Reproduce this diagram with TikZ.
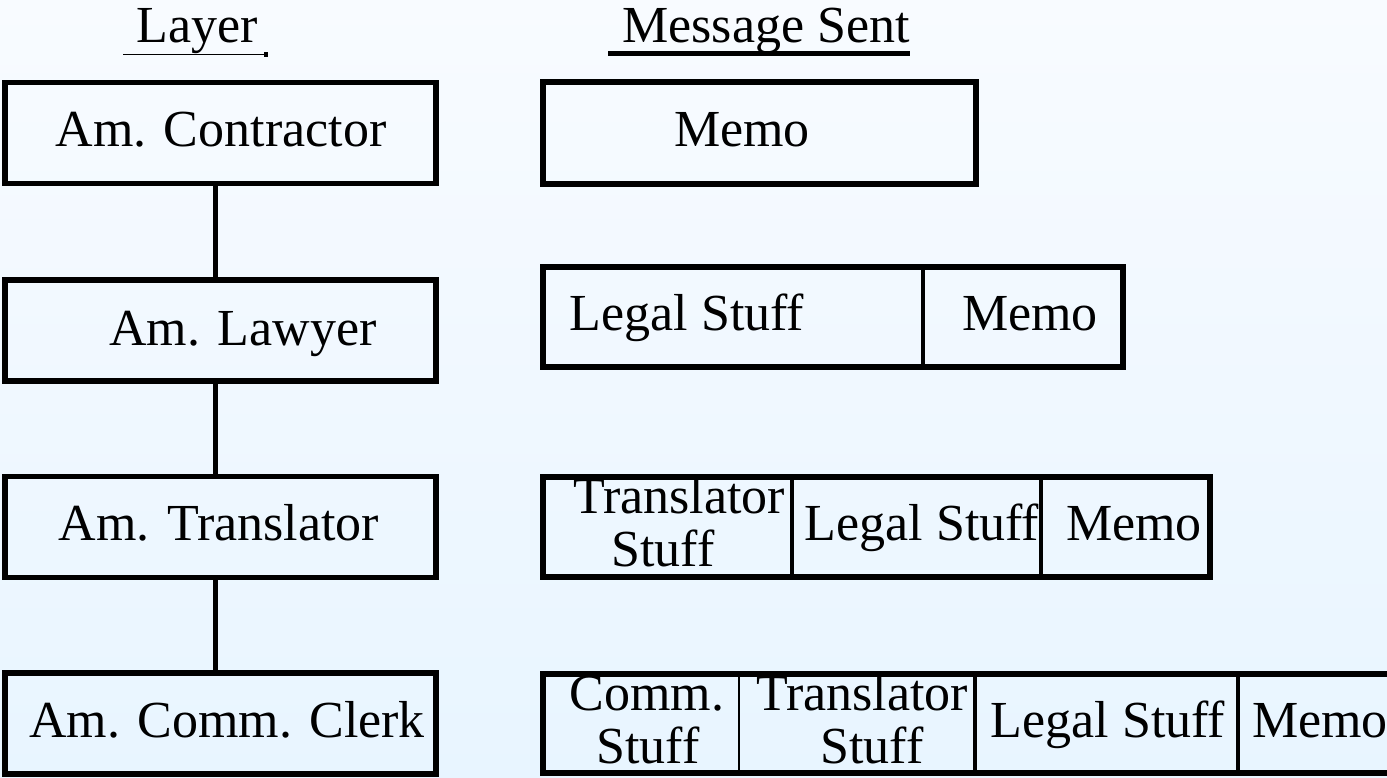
\documentclass[tikz,border=0pt]{standalone}
\usepackage{fontspec}
\setmainfont{Liberation Serif}
\usetikzlibrary{calc}
\definecolor{bgtop}{RGB}{248,251,255}
\definecolor{bgbot}{RGB}{232,245,255}
\tikzset{
  txt/.style={inner sep=0pt, anchor=base, font=\fontsize{52}{52}\selectfont},
  layerbox/.style={draw, line width=5.5pt, inner sep=0pt, minimum width=431pt, minimum height=101pt},
  cell/.style={inner sep=0pt, minimum height=100pt},
  outer/.style={line width=5.5pt},
  divider/.style={line width=3.5pt},
  conn/.style={line width=5.5pt},
}
\begin{document}
\begin{tikzpicture}[x=1pt,y=-1pt]
\useasboundingbox (0,0) rectangle (1387,778);
\shade[top color=bgtop, bottom color=bgbot] (0,0) rectangle (1387,778);

% headers
\node[txt] (hlayer) at (197,43) {Layer};
\draw[line width=1.5pt] (123,54.5) -- (267,54.5);
\fill (264,52.5) rectangle (268,57);
\node[txt] (hmsg) at (766,43) {Message Sent};
\draw[line width=5pt] (608,54) -- (910,54);

% layer boxes
\node[layerbox] (L1) at (220.5,133) {};
\node[layerbox] (L2) at (220.5,330.5) {};
\node[layerbox] (L3) at (220.5,527) {};
\node[layerbox] (L4) at (220.5,723.5) {};
\node[txt] (tL1) at (221,147) {Am. Contractor};
\node[txt] (tL2) at (243,345) {Am. Lawyer};
\node[txt] (tL3) at (219,540) {Am. Translator};
\node[txt] (tL4) at (227,737) {Am. Comm. Clerk};
\draw[conn] ($(L1.south)+(-5,0)$) -- ($(L2.north)+(-5,0)$);
\draw[conn] ($(L2.south)+(-5,0)$) -- ($(L3.north)+(-5,0)$);
\draw[conn] ($(L3.south)+(-5,0)$) -- ($(L4.north)+(-5,0)$);

% row 1
\node[cell, minimum width=433pt, minimum height=102pt] (m1a) at (759.5,133) {};
\draw[outer] (m1a.north west) rectangle (m1a.south east);
\node[txt] (t1a) at (742,147) {Memo};

% row 2
\node[cell, minimum width=380pt] (m2a) at (733,317) {};
\node[cell, minimum width=200pt] (m2b) at (1023,317) {};
\draw[outer] (m2a.north west) rectangle (m2b.south east);
\draw[divider] (m2a.north east) -- (m2a.south east);
\node[txt] (t2a) at (687,330) {Legal Stuff};
\node[txt] (t2b) at (1030,330) {Memo};

% row 3
\node[cell, minimum width=249pt] (m3a) at (667.5,527) {};
\node[cell, minimum width=249pt] (m3b) at (916.5,527) {};
\node[cell, minimum width=169pt] (m3c) at (1125.5,527) {};
\draw[outer] (m3a.north west) rectangle (m3c.south east);
\draw[divider] (m3a.north east) -- (m3a.south east);
\draw[divider] (m3b.north east) -- (m3b.south east);
\node[txt] (t3a1) at (679,513) {Translator};
\node[txt] (t3a2) at (663,566) {Stuff};
\node[txt] (t3b) at (922,540) {Legal Stuff};
\node[txt] (t3c) at (1134,540) {Memo};

% row 4
\node[cell, minimum width=196pt, minimum height=99pt] (m4a) at (641,723.5) {};
\node[cell, minimum width=236pt, minimum height=99pt] (m4b) at (857,723.5) {};
\node[cell, minimum width=263pt, minimum height=99pt] (m4c) at (1106.5,723.5) {};
\node[cell, minimum width=162pt, minimum height=99pt] (m4d) at (1319,723.5) {};
\draw[outer] (m4a.north west) rectangle (m4d.south east);
\draw[line width=2.5pt] (m4a.north east) -- (m4a.south east);
\draw[divider] (m4b.north east) -- (m4b.south east);
\draw[divider] (m4c.north east) -- (m4c.south east);
\node[txt] (t4a1) at (647,710) {Comm.};
\node[txt] (t4a2) at (648,763) {Stuff};
\node[txt] (t4b1) at (862,710) {Translator};
\node[txt] (t4b2) at (872,763) {Stuff};
\node[txt] (t4c) at (1108,737) {Legal Stuff};
\node[txt] (t4d) at (1320,737) {Memo};
\end{tikzpicture}
\end{document}
